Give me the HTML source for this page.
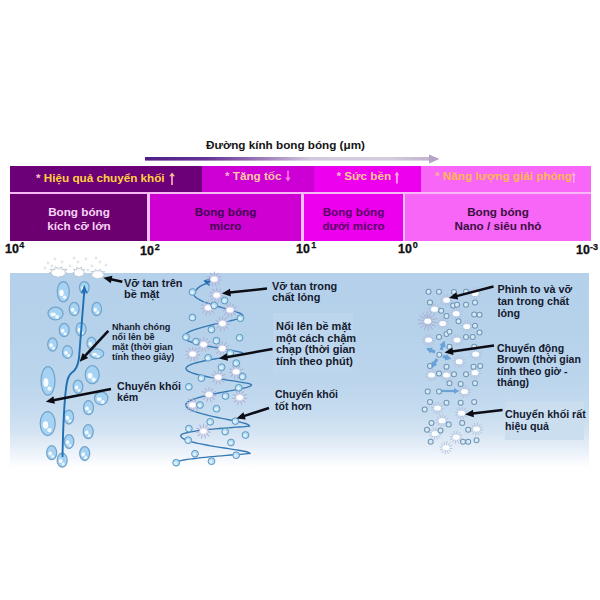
<!DOCTYPE html>
<html><head><meta charset="utf-8">
<style>
html,body{margin:0;padding:0;background:#fff;}
body{width:600px;height:600px;position:relative;overflow:hidden;font-family:"Liberation Sans",sans-serif;}
.a{position:absolute;white-space:nowrap;font-weight:bold;}
.c{position:absolute;}
.band{position:absolute;}
.lbl{position:absolute;white-space:nowrap;font-weight:bold;color:#141a2e;font-size:9.5px;line-height:11.7px;}
</style></head><body>
<!-- title -->
<div class="a" style="left:206px;top:138px;font-size:11.7px;line-height:13px;color:#151515;">Đường kính bong bóng (μm)</div>
<svg class="c" style="left:0;top:0" width="600" height="600">
<defs>
<linearGradient id="arr" x1="0" x2="1" y1="0" y2="0">
<stop offset="0" stop-color="#4e1c86"/>
<stop offset="0.22" stop-color="#663496"/>
<stop offset="0.42" stop-color="#a080bc"/>
<stop offset="0.58" stop-color="#d2c8de"/>
<stop offset="0.85" stop-color="#d4ccdc"/>
<stop offset="1" stop-color="#c0b2cc"/>
</linearGradient>
</defs>
<rect x="145" y="157" width="287" height="3.6" fill="url(#arr)"/>
<path d="M429 154.5 L439.5 159 L429 163.5 Z" fill="#b4a4c6"/>
</svg>
<!-- top band -->
<div class="band" style="left:10px;top:191px;width:581px;height:4px;background:#f8b8f8;"></div>
<div class="band" style="left:147px;top:194px;width:4px;height:47px;background:#f8c0f8;"></div>
<div class="band" style="left:300px;top:194px;width:5px;height:47px;background:#f8c0f8;"></div>
<div class="band" style="left:402px;top:194px;width:4px;height:47px;background:#f8c0f8;"></div>
<div class="band" style="left:10px;top:166px;width:192px;height:26px;background:#6c0078;"></div>
<div class="band" style="left:202px;top:166px;width:112px;height:26px;background:#cc00d4;"></div>
<div class="band" style="left:314px;top:166px;width:107px;height:26px;background:#ec00ee;"></div>
<div class="band" style="left:421px;top:166px;width:170px;height:26px;background:#f866f8;"></div>
<!-- bottom band -->
<div class="band" style="left:10px;top:194px;width:137px;height:47px;background:#6c0070;"></div>
<div class="band" style="left:150px;top:194px;width:151px;height:47px;background:#ce00d2;"></div>
<div class="band" style="left:304px;top:194px;width:99px;height:47px;background:#ec00ee;"></div>
<div class="band" style="left:405px;top:194px;width:186px;height:47px;background:#f866f8;"></div>

<div class="a" style="left:36px;top:171px;font-size:11.7px;line-height:13px;color:#ffd23e;"><span style="color:#f8c4c8">*</span> Hiệu quả chuyển khối </div>
<div class="a" style="left:225px;top:168.7px;font-size:11.7px;line-height:13px;color:#ffc8a0;"><span style="color:#ffb0d0">*</span> Tăng tốc </div>
<div class="a" style="left:336.5px;top:168.7px;font-size:11.7px;line-height:13px;color:#ffc890;"><span style="color:#ffb0d0">*</span> Sức bền </div>
<div class="a" style="left:435px;top:168.9px;font-size:11.7px;line-height:13px;color:#ffb850;"><span style="color:#ffb0a0">*</span> Năng lượng giải phóng</div>

<svg class="c" style="left:0;top:0" width="600" height="600">
<rect x="171" y="175" width="2" height="10" fill="#e490b4"/><path d="M172 172.6 L175 176.3 L169.2 176.3 Z" fill="#f6bc94"/>
<rect x="287" y="170.6" width="2" height="8" fill="#ff58e4"/><path d="M288 181.6 L290.6 177.6 L285.4 177.6 Z" fill="#ff88e0"/>
<rect x="395.9" y="174" width="2" height="9.5" fill="#ff98e8"/><path d="M396.9 171.4 L399.2 175.2 L394.6 175.2 Z" fill="#ffa8d8"/>
<rect x="573" y="175" width="1.5" height="8" fill="#ffa4ff"/><path d="M573.7 172.2 L575.8 175.6 L571.6 175.6 Z" fill="#ffb0f0"/>
</svg>
<div class="a" style="left:10px;top:205px;width:138px;text-align:center;font-size:11.7px;line-height:13.5px;color:#f4d4f4;">Bong bóng<br>kích cỡ lớn</div>
<div class="a" style="left:150px;top:205px;width:151px;text-align:center;font-size:11.7px;line-height:13.5px;color:#440050;">Bong bóng<br>micro</div>
<div class="a" style="left:304px;top:205px;width:99px;text-align:center;font-size:11.7px;line-height:13.5px;color:#5a0064;">Bong bóng<br>dưới micro</div>
<div class="a" style="left:405px;top:205px;width:186px;text-align:center;font-size:11.7px;line-height:13.5px;color:#3a1040;">Bong bóng<br>Nano / siêu nhỏ</div>

<!-- axis labels -->
<div class="a" style="left:4.5px;top:241.5px;font-size:13.5px;line-height:13.5px;color:#111;-webkit-text-stroke:0.35px #111;transform:scaleX(0.92);transform-origin:0 0;">10</div><div class="a" style="left:19.3px;top:240.8px;font-size:9px;line-height:9px;color:#111;-webkit-text-stroke:0.25px #111;">4</div>
<div class="a" style="left:140px;top:244.2px;font-size:13.5px;line-height:13.5px;color:#111;-webkit-text-stroke:0.35px #111;transform:scaleX(0.92);transform-origin:0 0;">10</div><div class="a" style="left:154.7px;top:243.1px;font-size:9px;line-height:9px;color:#111;-webkit-text-stroke:0.25px #111;">2</div>
<div class="a" style="left:296px;top:241.9px;font-size:13.5px;line-height:13.5px;color:#111;-webkit-text-stroke:0.35px #111;transform:scaleX(0.92);transform-origin:0 0;">10</div><div class="a" style="left:311.3px;top:241.1px;font-size:9px;line-height:9px;color:#111;-webkit-text-stroke:0.25px #111;">1</div>
<div class="a" style="left:398px;top:241.9px;font-size:13.5px;line-height:13.5px;color:#111;-webkit-text-stroke:0.35px #111;transform:scaleX(0.92);transform-origin:0 0;">10</div><div class="a" style="left:412.7px;top:241.1px;font-size:9px;line-height:9px;color:#111;-webkit-text-stroke:0.25px #111;">0</div>
<div class="a" style="left:576px;top:242.9px;font-size:13.5px;line-height:13.5px;color:#111;-webkit-text-stroke:0.35px #111;transform:scaleX(0.92);transform-origin:0 0;">10</div><div class="a" style="left:590px;top:242.5px;font-size:9px;line-height:9px;color:#111;-webkit-text-stroke:0.25px #111;">-3</div>
<!-- bubble panel bg -->
<div class="c" style="left:10px;top:273px;width:579px;height:195px;background:linear-gradient(#b5d0ea 0%,#b6d2eb 30%,#bbd5ec 55%,#c5dbef 70%,#d3e3f2 81%,#e5eef8 89%,#f3f7fc 95%,#ffffff 100%);"></div>

<div class="c" style="left:505px;top:402px;width:79px;height:38px;background:#cadef0;"></div>
<div class="c" style="left:273px;top:313px;width:80px;height:60px;background:#c2d8ee;opacity:0.6"></div>
<svg class="c" style="left:0;top:0" width="600" height="600">
<!--SVGSTART-->
<ellipse cx="63.3" cy="291.7" rx="6" ry="10.2" fill="#a6d3f3" stroke="#72a4cc" stroke-width="1.25"/>
<ellipse cx="61.5" cy="292.9" rx="2.2" ry="3.1" fill="#f8fcff"/>
<circle cx="64.6" cy="297.3" r="1.8" fill="#eef8ff"/>
<ellipse cx="84.3" cy="287.5" rx="4.8" ry="6" fill="#a6d3f3" stroke="#72a4cc" stroke-width="1.25"/>
<ellipse cx="82.9" cy="288.2" rx="1.7" ry="1.8" fill="#f8fcff"/>
<circle cx="85.4" cy="290.8" r="1.4" fill="#eef8ff"/>
<ellipse cx="74.2" cy="309" rx="5" ry="6.7" fill="#a6d3f3" stroke="#72a4cc" stroke-width="1.25"/>
<ellipse cx="72.7" cy="309.8" rx="1.8" ry="2.0" fill="#f8fcff"/>
<circle cx="75.3" cy="312.7" r="1.5" fill="#eef8ff"/>
<ellipse cx="96.7" cy="309" rx="4.8" ry="6.7" fill="#a6d3f3" stroke="#72a4cc" stroke-width="1.25"/>
<ellipse cx="95.3" cy="309.8" rx="1.7" ry="2.0" fill="#f8fcff"/>
<circle cx="97.8" cy="312.7" r="1.4" fill="#eef8ff"/>
<ellipse cx="55.5" cy="313.5" rx="7.5" ry="6.3" fill="#a6d3f3" stroke="#72a4cc" stroke-width="1.25"/>
<ellipse cx="53.2" cy="314.3" rx="2.7" ry="1.9" fill="#f8fcff"/>
<circle cx="57.1" cy="317.0" r="1.9" fill="#eef8ff"/>
<ellipse cx="64.2" cy="330" rx="5" ry="6.7" fill="#a6d3f3" stroke="#72a4cc" stroke-width="1.25"/>
<ellipse cx="62.7" cy="330.8" rx="1.8" ry="2.0" fill="#f8fcff"/>
<circle cx="65.3" cy="333.7" r="1.5" fill="#eef8ff"/>
<ellipse cx="81" cy="329.2" rx="5" ry="6.7" fill="#a6d3f3" stroke="#72a4cc" stroke-width="1.25"/>
<ellipse cx="79.5" cy="330.0" rx="1.8" ry="2.0" fill="#f8fcff"/>
<circle cx="82.1" cy="332.9" r="1.5" fill="#eef8ff"/>
<ellipse cx="52.5" cy="344.5" rx="4.8" ry="6.7" fill="#a6d3f3" stroke="#72a4cc" stroke-width="1.25"/>
<ellipse cx="51.1" cy="345.3" rx="1.7" ry="2.0" fill="#f8fcff"/>
<circle cx="53.6" cy="348.2" r="1.4" fill="#eef8ff"/>
<ellipse cx="67.5" cy="352" rx="5" ry="6.3" fill="#a6d3f3" stroke="#72a4cc" stroke-width="1.25"/>
<ellipse cx="66.0" cy="352.8" rx="1.8" ry="1.9" fill="#f8fcff"/>
<circle cx="68.6" cy="355.5" r="1.5" fill="#eef8ff"/>
<ellipse cx="91.5" cy="343.2" rx="4.5" ry="6" fill="#a6d3f3" stroke="#72a4cc" stroke-width="1.25"/>
<ellipse cx="90.2" cy="343.9" rx="1.6" ry="1.8" fill="#f8fcff"/>
<circle cx="92.5" cy="346.5" r="1.3" fill="#eef8ff"/>
<ellipse cx="96.7" cy="353.7" rx="7" ry="4.8" fill="#a6d3f3" stroke="#72a4cc" stroke-width="1.25"/>
<ellipse cx="94.6" cy="354.3" rx="2.5" ry="1.5" fill="#f8fcff"/>
<circle cx="98.2" cy="356.3" r="1.4" fill="#eef8ff"/>
<ellipse cx="48" cy="380.8" rx="7" ry="14.3" fill="#a6d3f3" stroke="#72a4cc" stroke-width="1.25"/>
<ellipse cx="45.9" cy="382.5" rx="2.5" ry="4.3" fill="#f8fcff"/>
<circle cx="49.5" cy="388.7" r="2.1" fill="#eef8ff"/>
<ellipse cx="92.2" cy="374.7" rx="7" ry="9" fill="#a6d3f3" stroke="#72a4cc" stroke-width="1.25"/>
<ellipse cx="90.1" cy="375.8" rx="2.5" ry="2.7" fill="#f8fcff"/>
<circle cx="93.7" cy="379.6" r="2.1" fill="#eef8ff"/>
<ellipse cx="78" cy="386.7" rx="4.8" ry="6.7" fill="#a6d3f3" stroke="#72a4cc" stroke-width="1.25"/>
<ellipse cx="76.6" cy="387.5" rx="1.7" ry="2.0" fill="#f8fcff"/>
<circle cx="79.1" cy="390.4" r="1.4" fill="#eef8ff"/>
<ellipse cx="101.2" cy="398.3" rx="6.7" ry="6.5" fill="#a6d3f3" stroke="#72a4cc" stroke-width="1.25"/>
<ellipse cx="99.2" cy="399.1" rx="2.4" ry="1.9" fill="#f8fcff"/>
<circle cx="102.7" cy="401.9" r="1.9" fill="#eef8ff"/>
<ellipse cx="88.5" cy="407.7" rx="5" ry="7" fill="#a6d3f3" stroke="#72a4cc" stroke-width="1.25"/>
<ellipse cx="87.0" cy="408.5" rx="1.8" ry="2.1" fill="#f8fcff"/>
<circle cx="89.6" cy="411.6" r="1.5" fill="#eef8ff"/>
<ellipse cx="68.8" cy="417" rx="4.8" ry="7" fill="#a6d3f3" stroke="#72a4cc" stroke-width="1.25"/>
<ellipse cx="67.4" cy="417.8" rx="1.7" ry="2.1" fill="#f8fcff"/>
<circle cx="69.9" cy="420.9" r="1.4" fill="#eef8ff"/>
<ellipse cx="47.7" cy="423.5" rx="7.5" ry="12" fill="#a6d3f3" stroke="#72a4cc" stroke-width="1.25"/>
<ellipse cx="45.5" cy="424.9" rx="2.7" ry="3.6" fill="#f8fcff"/>
<circle cx="49.4" cy="430.1" r="2.2" fill="#eef8ff"/>
<ellipse cx="88.2" cy="431.7" rx="5" ry="7" fill="#a6d3f3" stroke="#72a4cc" stroke-width="1.25"/>
<ellipse cx="86.7" cy="432.5" rx="1.8" ry="2.1" fill="#f8fcff"/>
<circle cx="89.3" cy="435.6" r="1.5" fill="#eef8ff"/>
<ellipse cx="69" cy="441.5" rx="4.8" ry="7" fill="#a6d3f3" stroke="#72a4cc" stroke-width="1.25"/>
<ellipse cx="67.6" cy="442.3" rx="1.7" ry="2.1" fill="#f8fcff"/>
<circle cx="70.1" cy="445.4" r="1.4" fill="#eef8ff"/>
<ellipse cx="51.7" cy="452.7" rx="5" ry="7" fill="#a6d3f3" stroke="#72a4cc" stroke-width="1.25"/>
<ellipse cx="50.2" cy="453.5" rx="1.8" ry="2.1" fill="#f8fcff"/>
<circle cx="52.8" cy="456.6" r="1.5" fill="#eef8ff"/>
<ellipse cx="62.2" cy="460.2" rx="5" ry="7" fill="#a6d3f3" stroke="#72a4cc" stroke-width="1.25"/>
<ellipse cx="60.7" cy="461.0" rx="1.8" ry="2.1" fill="#f8fcff"/>
<circle cx="63.3" cy="464.1" r="1.5" fill="#eef8ff"/>
<ellipse cx="84.7" cy="453.5" rx="5" ry="7" fill="#a6d3f3" stroke="#72a4cc" stroke-width="1.25"/>
<ellipse cx="83.2" cy="454.3" rx="1.8" ry="2.1" fill="#f8fcff"/>
<circle cx="85.8" cy="457.4" r="1.5" fill="#eef8ff"/>
<path d="M62.5 457 C63 430 64 402 66.5 385 C67.5 378 69 374.5 72 372.5 C76 370 78 365 79 358 L84.2 292" fill="none" stroke="#1f6fb2" stroke-width="1.9"/>
<path d="M84.3 284.8 L87.8 293.5 L84.3 292 L80.8 293.5 Z" fill="#1f6fb2"/>
<circle cx="48" cy="263" r="1.4" fill="#e2e6ea"/>
<circle cx="55" cy="259" r="1.4" fill="#e2e6ea"/>
<circle cx="62" cy="262" r="1.4" fill="#e2e6ea"/>
<circle cx="70" cy="266" r="1.4" fill="#e2e6ea"/>
<circle cx="78" cy="262" r="1.4" fill="#e2e6ea"/>
<circle cx="86" cy="259" r="1.4" fill="#e2e6ea"/>
<circle cx="92" cy="266" r="1.4" fill="#e2e6ea"/>
<circle cx="100" cy="262" r="1.4" fill="#e2e6ea"/>
<circle cx="106" cy="265" r="1.4" fill="#e2e6ea"/>
<circle cx="45" cy="268" r="1.4" fill="#e2e6ea"/>
<circle cx="66" cy="270" r="1.4" fill="#e2e6ea"/>
<circle cx="88" cy="270" r="1.4" fill="#e2e6ea"/>
<circle cx="52" cy="266" r="1.4" fill="#e2e6ea"/>
<circle cx="74" cy="258" r="1.4" fill="#e2e6ea"/>
<circle cx="96" cy="258" r="1.4" fill="#e2e6ea"/>
<polygon points="67.6,273.5 63.3,274.2 64.2,276.8 60.2,275.7 58.1,278.1 56.1,275.6 52.0,276.6 53.1,274.0 48.9,273.2 52.5,271.6 50.2,269.3 54.6,269.5 55.3,266.8 58.4,268.7 61.8,266.9 62.2,269.6 66.6,269.5 64.1,271.8" fill="#f4f7fb" stroke="#b8c4d0" stroke-width="0.9" stroke-linejoin="round"/>
<ellipse cx="58.3" cy="273.1" rx="6.6" ry="3.2" fill="#ffffff"/>
<polygon points="85.4,273.4 82.4,274.1 83.0,276.6 80.3,275.5 78.8,277.8 77.5,275.5 74.7,276.4 75.5,273.9 72.6,273.1 75.1,271.6 73.5,269.4 76.5,269.6 76.9,267.1 79.1,268.9 81.4,267.2 81.7,269.7 84.7,269.7 83.0,271.8" fill="#f4f7fb" stroke="#b8c4d0" stroke-width="0.9" stroke-linejoin="round"/>
<ellipse cx="79" cy="273.1" rx="4.5" ry="3.0" fill="#ffffff"/>
<polygon points="105.6,275.2 102.0,275.9 102.8,278.3 99.4,277.3 97.6,279.4 96.0,277.2 92.5,278.1 93.4,275.7 89.9,275.0 92.9,273.6 91.0,271.5 94.7,271.7 95.3,269.3 97.9,271.0 100.7,269.4 101.1,271.8 104.8,271.7 102.7,273.7" fill="#f4f7fb" stroke="#b8c4d0" stroke-width="0.9" stroke-linejoin="round"/>
<ellipse cx="97.8" cy="275.0" rx="5.6" ry="2.9" fill="#ffffff"/>
<path d="M206.5 283.5 Q198.5 286 195.2 291.2 L193 293 L193.0 293.0 L193.2 294.2 L193.9 295.4 L194.9 296.6 L196.3 297.8 L198.2 299.0 L200.3 300.2 L202.8 301.3 L205.5 302.4 L208.4 303.5 L211.5 304.5 L214.7 305.5 L218.0 306.5 L221.3 307.4 L224.5 308.3 L227.6 309.2 L230.5 310.1 L233.2 310.9 L235.7 311.7 L237.8 312.4 L239.7 313.2 L241.1 313.9 L242.1 314.6 L242.8 315.3 L243.0 316.0 L243.0 316.0 L242.7 316.6 L242.0 317.2 L240.8 317.9 L239.0 318.5 L236.9 319.2 L234.4 319.8 L231.5 320.5 L228.2 321.3 L224.8 322.0 L221.1 322.8 L217.4 323.6 L213.5 324.5 L209.6 325.4 L205.9 326.3 L202.2 327.3 L198.8 328.3 L195.5 329.3 L192.6 330.3 L190.1 331.4 L188.0 332.5 L186.2 333.6 L185.0 334.7 L184.3 335.9 L184.0 337.0 L184.0 337.0 L184.3 337.9 L185.0 338.9 L186.2 339.8 L188.0 340.8 L190.1 341.7 L192.6 342.5 L195.5 343.4 L198.8 344.2 L202.2 345.0 L205.9 345.8 L209.6 346.5 L213.5 347.2 L217.4 347.9 L221.1 348.6 L224.8 349.2 L228.2 349.7 L231.5 350.3 L234.4 350.8 L236.9 351.3 L239.0 351.8 L240.8 352.2 L242.0 352.6 L242.7 353.1 L243.0 353.5 L243.0 353.5 L242.8 353.9 L242.0 354.2 L240.8 354.6 L239.2 355.0 L237.1 355.4 L234.7 355.8 L231.8 356.3 L228.8 356.8 L225.4 357.3 L221.9 357.8 L218.2 358.4 L214.5 359.0 L210.8 359.6 L207.1 360.3 L203.6 361.0 L200.2 361.8 L197.2 362.5 L194.3 363.3 L191.9 364.2 L189.8 365.0 L188.2 365.9 L187.0 366.7 L186.2 367.6 L186.0 368.5 L186.0 368.5 L186.3 369.4 L187.1 370.4 L188.5 371.3 L190.4 372.2 L192.8 373.2 L195.6 374.0 L198.8 374.9 L202.4 375.7 L206.2 376.5 L210.3 377.3 L214.5 378.0 L218.8 378.8 L223.0 379.4 L227.2 380.1 L231.3 380.7 L235.1 381.2 L238.7 381.8 L241.9 382.3 L244.7 382.8 L247.1 383.2 L249.0 383.7 L250.4 384.1 L251.2 384.6 L251.5 385.0 L251.5 385.0 L251.2 385.6 L250.4 386.1 L249.0 386.7 L247.1 387.3 L244.7 387.9 L241.9 388.6 L238.6 389.2 L235.1 389.9 L231.2 390.7 L227.1 391.4 L222.9 392.2 L218.6 393.0 L214.3 393.9 L210.1 394.7 L206.0 395.7 L202.2 396.6 L198.6 397.6 L195.3 398.6 L192.5 399.6 L190.1 400.7 L188.2 401.7 L186.8 402.8 L186.0 403.9 L185.7 405.0 L185.7 405.0 L186.0 406.1 L186.8 407.3 L188.1 408.4 L190.0 409.5 L192.3 410.6 L195.0 411.7 L198.2 412.7 L201.6 413.7 L205.4 414.7 L209.3 415.7 L213.4 416.6 L217.6 417.5 L221.8 418.4 L225.9 419.2 L229.8 420.0 L233.5 420.7 L237.0 421.5 L240.2 422.2 L242.9 422.8 L245.2 423.5 L247.1 424.1 L248.4 424.8 L249.2 425.4 L249.5 426.0 L249.5 426.0 L249.2 426.1 L248.3 426.3 L246.9 426.4 L244.9 426.6 L242.4 426.8 L239.4 427.0 L236.0 427.2 L232.3 427.5 L228.3 427.8 L224.0 428.1 L219.6 428.5 L215.1 428.9 L210.6 429.3 L206.2 429.7 L201.9 430.2 L197.9 430.7 L194.2 431.3 L190.8 431.9 L187.8 432.5 L185.3 433.1 L183.3 433.7 L181.9 434.4 L181.0 435.0 L180.7 435.7 L180.7 435.7 L181.0 436.7 L181.9 437.7 L183.3 438.7 L185.3 439.7 L187.9 440.6 L190.8 441.6 L194.3 442.5 L198.0 443.4 L202.1 444.2 L206.4 445.0 L210.8 445.8 L215.3 446.6 L219.9 447.3 L224.3 448.0 L228.6 448.7 L232.7 449.3 L236.4 449.9 L239.9 450.5 L242.8 451.0 L245.4 451.5 L247.4 452.0 L248.8 452.5 L249.7 453.0 L250.0 453.5 L250.0 453.5 L245.2 453.9 L240.4 454.3 L235.6 454.6 L230.9 455.0 L226.3 455.4 L221.8 455.8 L217.4 456.2 L213.1 456.6 L209.0 456.9 L205.1 457.3 L201.3 457.7 L197.8 458.1 L194.5 458.5 L191.5 458.9 L188.6 459.2 L186.1 459.6 L183.8 460.0 L181.8 460.4 L180.1 460.8 L178.7 461.2 L177.6 461.6 L176.8 461.9 L176.4 462.3 L176.2 462.7" fill="none" stroke="#3478b4" stroke-width="1.35"/>
<path d="M211.5 277.8 L209.2 286.3 L203.3 280.8 Z" fill="#1f6cb5"/>
<path d="M217.2 279.6L221.3 280.3M216.5 281.2L219.6 284.0M215.0 282.1L216.2 286.1M213.3 282.1L212.1 286.1M211.9 281.1L208.7 283.9M211.2 279.6L207.1 280.2M211.5 277.9L207.7 276.2M212.6 276.7L210.4 273.1M214.2 276.2L214.3 272.0M215.8 276.7L218.1 273.2M216.9 278.0L220.8 276.3" stroke="#aeb2d4" stroke-width="1.1" stroke-linecap="round"/>
<ellipse cx="214.2" cy="279.2" rx="3.8" ry="3.0" fill="#ffffff" stroke="#d8d6ee" stroke-width="0.9"/>
<path d="M219.7 295.6L223.8 296.3M219.0 297.2L222.1 300.0M217.5 298.1L218.7 302.1M215.8 298.1L214.6 302.1M214.4 297.1L211.2 299.9M213.7 295.6L209.6 296.2M214.0 293.9L210.2 292.2M215.1 292.7L212.9 289.1M216.7 292.2L216.8 288.0M218.3 292.7L220.6 289.2M219.4 294.0L223.3 292.3" stroke="#aeb2d4" stroke-width="1.1" stroke-linecap="round"/>
<ellipse cx="216.7" cy="295.2" rx="3.8" ry="3.0" fill="#ffffff" stroke="#d8d6ee" stroke-width="0.9"/>
<path d="M211.2 308.1L215.3 308.8M210.5 309.7L213.6 312.5M209.0 310.6L210.2 314.6M207.3 310.6L206.1 314.6M205.9 309.6L202.7 312.4M205.2 308.1L201.1 308.7M205.5 306.4L201.7 304.7M206.6 305.2L204.4 301.6M208.2 304.7L208.3 300.5M209.8 305.2L212.1 301.7M210.9 306.5L214.8 304.8" stroke="#aeb2d4" stroke-width="1.1" stroke-linecap="round"/>
<ellipse cx="208.2" cy="307.7" rx="3.8" ry="3.0" fill="#ffffff" stroke="#d8d6ee" stroke-width="0.9"/>
<path d="M233.0 310.4L237.1 311.1M232.3 312.0L235.4 314.8M230.8 312.9L232.0 316.9M229.1 312.9L227.9 316.9M227.7 311.9L224.5 314.7M227.0 310.4L222.9 311.0M227.3 308.7L223.5 307.0M228.4 307.5L226.2 303.9M230.0 307.0L230.1 302.8M231.6 307.5L233.9 304.0M232.7 308.8L236.6 307.1" stroke="#aeb2d4" stroke-width="1.1" stroke-linecap="round"/>
<ellipse cx="230" cy="310" rx="3.8" ry="3.0" fill="#ffffff" stroke="#d8d6ee" stroke-width="0.9"/>
<path d="M225.5 323.9L229.6 324.6M224.8 325.5L227.9 328.3M223.3 326.4L224.5 330.4M221.6 326.4L220.4 330.4M220.2 325.4L217.0 328.2M219.5 323.9L215.4 324.5M219.8 322.2L216.0 320.5M220.9 321.0L218.7 317.4M222.5 320.5L222.6 316.3M224.1 321.0L226.4 317.5M225.2 322.3L229.1 320.6" stroke="#aeb2d4" stroke-width="1.1" stroke-linecap="round"/>
<ellipse cx="222.5" cy="323.5" rx="3.8" ry="3.0" fill="#ffffff" stroke="#d8d6ee" stroke-width="0.9"/>
<path d="M206.6 344.9L210.7 345.6M205.9 346.5L209.0 349.3M204.4 347.4L205.6 351.4M202.7 347.4L201.5 351.4M201.3 346.4L198.1 349.2M200.6 344.9L196.5 345.5M200.9 343.2L197.1 341.5M202.0 342.0L199.8 338.4M203.6 341.5L203.7 337.3M205.2 342.0L207.5 338.5M206.3 343.3L210.2 341.6" stroke="#aeb2d4" stroke-width="1.1" stroke-linecap="round"/>
<ellipse cx="203.6" cy="344.5" rx="3.8" ry="3.0" fill="#ffffff" stroke="#d8d6ee" stroke-width="0.9"/>
<path d="M225.3 348.8L229.4 349.5M224.6 350.4L227.7 353.2M223.1 351.3L224.3 355.3M221.4 351.3L220.2 355.3M220.0 350.3L216.8 353.1M219.3 348.8L215.2 349.4M219.6 347.1L215.8 345.4M220.7 345.9L218.5 342.3M222.3 345.4L222.4 341.2M223.9 345.9L226.2 342.4M225.0 347.2L228.9 345.5" stroke="#aeb2d4" stroke-width="1.1" stroke-linecap="round"/>
<ellipse cx="222.3" cy="348.4" rx="3.8" ry="3.0" fill="#ffffff" stroke="#d8d6ee" stroke-width="0.9"/>
<path d="M195.7 354.4L199.8 355.1M195.0 356.0L198.1 358.8M193.5 356.9L194.7 360.9M191.8 356.9L190.6 360.9M190.4 355.9L187.2 358.7M189.7 354.4L185.6 355.0M190.0 352.7L186.2 351.0M191.1 351.5L188.9 347.9M192.7 351.0L192.8 346.8M194.3 351.5L196.6 348.0M195.4 352.8L199.3 351.1" stroke="#aeb2d4" stroke-width="1.1" stroke-linecap="round"/>
<ellipse cx="192.7" cy="354" rx="3.8" ry="3.0" fill="#ffffff" stroke="#d8d6ee" stroke-width="0.9"/>
<path d="M239.2 372.2L243.3 372.9M238.5 373.8L241.6 376.6M237.0 374.7L238.2 378.7M235.3 374.7L234.1 378.7M233.9 373.7L230.7 376.5M233.2 372.2L229.1 372.8M233.5 370.5L229.7 368.8M234.6 369.3L232.4 365.7M236.2 368.8L236.3 364.6M237.8 369.3L240.1 365.8M238.9 370.6L242.8 368.9" stroke="#aeb2d4" stroke-width="1.1" stroke-linecap="round"/>
<ellipse cx="236.2" cy="371.8" rx="3.8" ry="3.0" fill="#ffffff" stroke="#d8d6ee" stroke-width="0.9"/>
<path d="M221.2 377.7L225.3 378.4M220.5 379.3L223.6 382.1M219.0 380.2L220.2 384.2M217.3 380.2L216.1 384.2M215.9 379.2L212.7 382.0M215.2 377.7L211.1 378.3M215.5 376.0L211.7 374.3M216.6 374.8L214.4 371.2M218.2 374.3L218.3 370.1M219.8 374.8L222.1 371.3M220.9 376.1L224.8 374.4" stroke="#aeb2d4" stroke-width="1.1" stroke-linecap="round"/>
<ellipse cx="218.2" cy="377.3" rx="3.8" ry="3.0" fill="#ffffff" stroke="#d8d6ee" stroke-width="0.9"/>
<path d="M212.0 394.9L216.1 395.6M211.3 396.5L214.4 399.3M209.8 397.4L211.0 401.4M208.1 397.4L206.9 401.4M206.7 396.4L203.5 399.2M206.0 394.9L201.9 395.5M206.3 393.2L202.5 391.5M207.4 392.0L205.2 388.4M209.0 391.5L209.1 387.3M210.6 392.0L212.9 388.5M211.7 393.3L215.6 391.6" stroke="#aeb2d4" stroke-width="1.1" stroke-linecap="round"/>
<ellipse cx="209" cy="394.5" rx="3.8" ry="3.0" fill="#ffffff" stroke="#d8d6ee" stroke-width="0.9"/>
<path d="M242.7 397.9L246.8 398.6M242.0 399.5L245.1 402.3M240.5 400.4L241.7 404.4M238.8 400.4L237.6 404.4M237.4 399.4L234.2 402.2M236.7 397.9L232.6 398.5M237.0 396.2L233.2 394.5M238.1 395.0L235.9 391.4M239.7 394.5L239.8 390.3M241.3 395.0L243.6 391.5M242.4 396.3L246.3 394.6" stroke="#aeb2d4" stroke-width="1.1" stroke-linecap="round"/>
<ellipse cx="239.7" cy="397.5" rx="3.8" ry="3.0" fill="#ffffff" stroke="#d8d6ee" stroke-width="0.9"/>
<path d="M195.5 405.4L199.6 406.1M194.8 407.0L197.9 409.8M193.3 407.9L194.5 411.9M191.6 407.9L190.4 411.9M190.2 406.9L187.0 409.7M189.5 405.4L185.4 406.0M189.8 403.7L186.0 402.0M190.9 402.5L188.7 398.9M192.5 402.0L192.6 397.8M194.1 402.5L196.4 399.0M195.2 403.8L199.1 402.1" stroke="#aeb2d4" stroke-width="1.1" stroke-linecap="round"/>
<ellipse cx="192.5" cy="405" rx="3.8" ry="3.0" fill="#ffffff" stroke="#d8d6ee" stroke-width="0.9"/>
<path d="M206.5 431.6L210.6 432.3M205.8 433.2L208.9 436.0M204.3 434.1L205.5 438.1M202.6 434.1L201.4 438.1M201.2 433.1L198.0 435.9M200.5 431.6L196.4 432.2M200.8 429.9L197.0 428.2M201.9 428.7L199.7 425.1M203.5 428.2L203.6 424.0M205.1 428.7L207.4 425.2M206.2 430.0L210.1 428.3" stroke="#aeb2d4" stroke-width="1.1" stroke-linecap="round"/>
<ellipse cx="203.5" cy="431.2" rx="3.8" ry="3.0" fill="#ffffff" stroke="#d8d6ee" stroke-width="0.9"/>
<circle cx="192.5" cy="292" r="3.4" fill="#b2daf2" stroke="#5e98c2" stroke-width="1.0"/>
<circle cx="192.0" cy="292.5" r="1.8" fill="#dcf0fb"/>
<circle cx="224.7" cy="300.5" r="3.4" fill="#b2daf2" stroke="#5e98c2" stroke-width="1.0"/>
<circle cx="224.2" cy="301.0" r="1.8" fill="#dcf0fb"/>
<circle cx="214.2" cy="305.5" r="3.4" fill="#b2daf2" stroke="#5e98c2" stroke-width="1.0"/>
<circle cx="213.7" cy="306.0" r="1.8" fill="#dcf0fb"/>
<circle cx="240.5" cy="318.2" r="3.4" fill="#b2daf2" stroke="#5e98c2" stroke-width="1.0"/>
<circle cx="240.0" cy="318.7" r="1.8" fill="#dcf0fb"/>
<circle cx="192.5" cy="317.5" r="3.4" fill="#b2daf2" stroke="#5e98c2" stroke-width="1.0"/>
<circle cx="192.0" cy="318.0" r="1.8" fill="#dcf0fb"/>
<circle cx="211.5" cy="329.5" r="3.4" fill="#b2daf2" stroke="#5e98c2" stroke-width="1.0"/>
<circle cx="211.0" cy="330.0" r="1.8" fill="#dcf0fb"/>
<circle cx="186" cy="337" r="3.4" fill="#b2daf2" stroke="#5e98c2" stroke-width="1.0"/>
<circle cx="185.5" cy="337.5" r="1.8" fill="#dcf0fb"/>
<circle cx="196" cy="341.5" r="3.4" fill="#b2daf2" stroke="#5e98c2" stroke-width="1.0"/>
<circle cx="195.5" cy="342.0" r="1.8" fill="#dcf0fb"/>
<circle cx="216.4" cy="340.7" r="3.4" fill="#b2daf2" stroke="#5e98c2" stroke-width="1.0"/>
<circle cx="215.9" cy="341.2" r="1.8" fill="#dcf0fb"/>
<circle cx="239.6" cy="337.7" r="3.4" fill="#b2daf2" stroke="#5e98c2" stroke-width="1.0"/>
<circle cx="239.1" cy="338.2" r="1.8" fill="#dcf0fb"/>
<circle cx="230.3" cy="353" r="3.4" fill="#b2daf2" stroke="#5e98c2" stroke-width="1.0"/>
<circle cx="229.8" cy="353.5" r="1.8" fill="#dcf0fb"/>
<circle cx="208.1" cy="357.8" r="3.4" fill="#b2daf2" stroke="#5e98c2" stroke-width="1.0"/>
<circle cx="207.6" cy="358.3" r="1.8" fill="#dcf0fb"/>
<circle cx="236.2" cy="363.1" r="3.4" fill="#b2daf2" stroke="#5e98c2" stroke-width="1.0"/>
<circle cx="235.7" cy="363.6" r="1.8" fill="#dcf0fb"/>
<circle cx="221.6" cy="367.2" r="3.4" fill="#b2daf2" stroke="#5e98c2" stroke-width="1.0"/>
<circle cx="221.1" cy="367.7" r="1.8" fill="#dcf0fb"/>
<circle cx="201.4" cy="378.1" r="3.4" fill="#b2daf2" stroke="#5e98c2" stroke-width="1.0"/>
<circle cx="200.9" cy="378.6" r="1.8" fill="#dcf0fb"/>
<circle cx="242.6" cy="376.6" r="3.4" fill="#b2daf2" stroke="#5e98c2" stroke-width="1.0"/>
<circle cx="242.1" cy="377.1" r="1.8" fill="#dcf0fb"/>
<circle cx="188.9" cy="386.8" r="3.4" fill="#b2daf2" stroke="#5e98c2" stroke-width="1.0"/>
<circle cx="188.4" cy="387.3" r="1.8" fill="#dcf0fb"/>
<circle cx="238.8" cy="387.8" r="3.4" fill="#b2daf2" stroke="#5e98c2" stroke-width="1.0"/>
<circle cx="238.3" cy="388.3" r="1.8" fill="#dcf0fb"/>
<circle cx="225.5" cy="396" r="3.4" fill="#b2daf2" stroke="#5e98c2" stroke-width="1.0"/>
<circle cx="225.0" cy="396.5" r="1.8" fill="#dcf0fb"/>
<circle cx="200" cy="405" r="3.4" fill="#b2daf2" stroke="#5e98c2" stroke-width="1.0"/>
<circle cx="199.5" cy="405.5" r="1.8" fill="#dcf0fb"/>
<circle cx="216.6" cy="408.7" r="3.4" fill="#b2daf2" stroke="#5e98c2" stroke-width="1.0"/>
<circle cx="216.1" cy="409.2" r="1.8" fill="#dcf0fb"/>
<circle cx="235.4" cy="421.1" r="3.4" fill="#b2daf2" stroke="#5e98c2" stroke-width="1.0"/>
<circle cx="234.9" cy="421.6" r="1.8" fill="#dcf0fb"/>
<circle cx="210.2" cy="421.8" r="3.4" fill="#b2daf2" stroke="#5e98c2" stroke-width="1.0"/>
<circle cx="209.7" cy="422.3" r="1.8" fill="#dcf0fb"/>
<circle cx="188.9" cy="428.6" r="3.4" fill="#b2daf2" stroke="#5e98c2" stroke-width="1.0"/>
<circle cx="188.4" cy="429.1" r="1.8" fill="#dcf0fb"/>
<circle cx="225.2" cy="431.6" r="3.4" fill="#b2daf2" stroke="#5e98c2" stroke-width="1.0"/>
<circle cx="224.7" cy="432.1" r="1.8" fill="#dcf0fb"/>
<circle cx="245.5" cy="435" r="3.4" fill="#b2daf2" stroke="#5e98c2" stroke-width="1.0"/>
<circle cx="245.0" cy="435.5" r="1.8" fill="#dcf0fb"/>
<circle cx="188.2" cy="440.2" r="3.4" fill="#b2daf2" stroke="#5e98c2" stroke-width="1.0"/>
<circle cx="187.7" cy="440.7" r="1.8" fill="#dcf0fb"/>
<circle cx="231" cy="442.5" r="3.4" fill="#b2daf2" stroke="#5e98c2" stroke-width="1.0"/>
<circle cx="230.5" cy="443.0" r="1.8" fill="#dcf0fb"/>
<circle cx="195" cy="453.7" r="3.4" fill="#b2daf2" stroke="#5e98c2" stroke-width="1.0"/>
<circle cx="194.5" cy="454.2" r="1.8" fill="#dcf0fb"/>
<circle cx="236.2" cy="455.2" r="3.4" fill="#b2daf2" stroke="#5e98c2" stroke-width="1.0"/>
<circle cx="235.7" cy="455.7" r="1.8" fill="#dcf0fb"/>
<circle cx="211.5" cy="461.2" r="3.4" fill="#b2daf2" stroke="#5e98c2" stroke-width="1.0"/>
<circle cx="211.0" cy="461.7" r="1.8" fill="#dcf0fb"/>
<circle cx="176.2" cy="462.7" r="3.4" fill="#b2daf2" stroke="#5e98c2" stroke-width="1.0"/>
<circle cx="175.7" cy="463.2" r="1.8" fill="#dcf0fb"/>
<path d="M430.7 321.6L437.1 322.6M430.2 322.9L435.5 326.6M429.2 323.8L432.4 329.4M427.9 324.2L428.4 330.7M426.6 324.0L424.2 330.0M425.5 323.2L420.7 327.7M424.8 322.1L418.6 324.0M424.7 320.8L418.3 319.8M425.2 319.5L419.9 315.8M426.2 318.6L423.0 313.0M427.5 318.2L427.0 311.7M428.8 318.4L431.2 312.4M429.9 319.2L434.7 314.7M430.6 320.3L436.8 318.4" stroke="#a8acd4" stroke-width="1.0" stroke-linecap="round"/>
<path d="M449.0 300.6L452.6 301.1M448.5 301.8L451.3 304.1M447.4 302.5L448.8 306.0M446.1 302.7L445.6 306.3M444.9 302.2L442.6 305.0M444.2 301.1L440.7 302.5M444.0 299.8L440.4 299.3M444.5 298.6L441.7 296.3M445.6 297.9L444.2 294.4M446.9 297.7L447.4 294.1M448.1 298.2L450.4 295.4M448.8 299.3L452.3 297.9" stroke="#b0bcd8" stroke-width="0.85" stroke-linecap="round"/>
<ellipse cx="446.5" cy="300.2" rx="3.5" ry="2.6" fill="#fbfdff"/>
<path d="M477.5 293.9L481.1 294.4M477.0 295.1L479.8 297.4M475.9 295.8L477.3 299.3M474.6 296.0L474.1 299.6M473.4 295.5L471.1 298.3M472.7 294.4L469.2 295.8M472.5 293.1L468.9 292.6M473.0 291.9L470.2 289.6M474.1 291.2L472.7 287.7M475.4 291.0L475.9 287.4M476.6 291.5L478.9 288.7M477.3 292.6L480.8 291.2" stroke="#b0bcd8" stroke-width="0.85" stroke-linecap="round"/>
<ellipse cx="475" cy="293.5" rx="3.5" ry="2.6" fill="#fbfdff"/>
<path d="M437.0 309.6L440.6 310.1M436.5 310.8L439.3 313.1M435.4 311.5L436.8 315.0M434.1 311.7L433.6 315.3M432.9 311.2L430.6 314.0M432.2 310.1L428.7 311.5M432.0 308.8L428.4 308.3M432.5 307.6L429.7 305.3M433.6 306.9L432.2 303.4M434.9 306.7L435.4 303.1M436.1 307.2L438.4 304.4M436.8 308.3L440.3 306.9" stroke="#b0bcd8" stroke-width="0.85" stroke-linecap="round"/>
<ellipse cx="434.5" cy="309.2" rx="3.5" ry="2.6" fill="#fbfdff"/>
<path d="M458.7 314.1L462.3 314.6M458.2 315.3L461.0 317.6M457.1 316.0L458.5 319.5M455.8 316.2L455.3 319.8M454.6 315.7L452.3 318.5M453.9 314.6L450.4 316.0M453.7 313.3L450.1 312.8M454.2 312.1L451.4 309.8M455.3 311.4L453.9 307.9M456.6 311.2L457.1 307.6M457.8 311.7L460.1 308.9M458.5 312.8L462.0 311.4" stroke="#b0bcd8" stroke-width="0.85" stroke-linecap="round"/>
<ellipse cx="456.2" cy="313.7" rx="3.5" ry="2.6" fill="#fbfdff"/>
<path d="M430.2 321.6L433.8 322.1M429.7 322.8L432.5 325.1M428.6 323.5L430.0 327.0M427.3 323.7L426.8 327.3M426.1 323.2L423.8 326.0M425.4 322.1L421.9 323.5M425.2 320.8L421.6 320.3M425.7 319.6L422.9 317.3M426.8 318.9L425.4 315.4M428.1 318.7L428.6 315.1M429.3 319.2L431.6 316.4M430.0 320.3L433.5 318.9" stroke="#b0bcd8" stroke-width="0.85" stroke-linecap="round"/>
<ellipse cx="427.7" cy="321.2" rx="3.5" ry="2.6" fill="#fbfdff"/>
<path d="M445.2 323.9L448.8 324.4M444.7 325.1L447.5 327.4M443.6 325.8L445.0 329.3M442.3 326.0L441.8 329.6M441.1 325.5L438.8 328.3M440.4 324.4L436.9 325.8M440.2 323.1L436.6 322.6M440.7 321.9L437.9 319.6M441.8 321.2L440.4 317.7M443.1 321.0L443.6 317.4M444.3 321.5L446.6 318.7M445.0 322.6L448.5 321.2" stroke="#b0bcd8" stroke-width="0.85" stroke-linecap="round"/>
<ellipse cx="442.7" cy="323.5" rx="3.5" ry="2.6" fill="#fbfdff"/>
<path d="M469.2 326.9L472.8 327.4M468.7 328.1L471.5 330.4M467.6 328.8L469.0 332.3M466.3 329.0L465.8 332.6M465.1 328.5L462.8 331.3M464.4 327.4L460.9 328.8M464.2 326.1L460.6 325.6M464.7 324.9L461.9 322.6M465.8 324.2L464.4 320.7M467.1 324.0L467.6 320.4M468.3 324.5L470.6 321.7M469.0 325.6L472.5 324.2" stroke="#b0bcd8" stroke-width="0.85" stroke-linecap="round"/>
<ellipse cx="466.7" cy="326.5" rx="3.5" ry="2.6" fill="#fbfdff"/>
<path d="M431.0 340.4L434.6 340.9M430.5 341.6L433.3 343.9M429.4 342.3L430.8 345.8M428.1 342.5L427.6 346.1M426.9 342.0L424.6 344.8M426.2 340.9L422.7 342.3M426.0 339.6L422.4 339.1M426.5 338.4L423.7 336.1M427.6 337.7L426.2 334.2M428.9 337.5L429.4 333.9M430.1 338.0L432.4 335.2M430.8 339.1L434.3 337.7" stroke="#b0bcd8" stroke-width="0.85" stroke-linecap="round"/>
<ellipse cx="428.5" cy="340" rx="3.5" ry="2.6" fill="#fbfdff"/>
<path d="M459.5 340.4L463.1 340.9M459.0 341.6L461.8 343.9M457.9 342.3L459.3 345.8M456.6 342.5L456.1 346.1M455.4 342.0L453.1 344.8M454.7 340.9L451.2 342.3M454.5 339.6L450.9 339.1M455.0 338.4L452.2 336.1M456.1 337.7L454.7 334.2M457.4 337.5L457.9 333.9M458.6 338.0L460.9 335.2M459.3 339.1L462.8 337.7" stroke="#b0bcd8" stroke-width="0.85" stroke-linecap="round"/>
<ellipse cx="457" cy="340" rx="3.5" ry="2.6" fill="#fbfdff"/>
<path d="M478.2 354.6L481.8 355.1M477.7 355.8L480.5 358.1M476.6 356.5L478.0 360.0M475.3 356.7L474.8 360.3M474.1 356.2L471.8 359.0M473.4 355.1L469.9 356.5M473.2 353.8L469.6 353.3M473.7 352.6L470.9 350.3M474.8 351.9L473.4 348.4M476.1 351.7L476.6 348.1M477.3 352.2L479.6 349.4M478.0 353.3L481.5 351.9" stroke="#b0bcd8" stroke-width="0.85" stroke-linecap="round"/>
<ellipse cx="475.7" cy="354.2" rx="3.5" ry="2.6" fill="#fbfdff"/>
<path d="M461.7 362.1L465.3 362.6M461.2 363.3L464.0 365.6M460.1 364.0L461.5 367.5M458.8 364.2L458.3 367.8M457.6 363.7L455.3 366.5M456.9 362.6L453.4 364.0M456.7 361.3L453.1 360.8M457.2 360.1L454.4 357.8M458.3 359.4L456.9 355.9M459.6 359.2L460.1 355.6M460.8 359.7L463.1 356.9M461.5 360.8L465.0 359.4" stroke="#b0bcd8" stroke-width="0.85" stroke-linecap="round"/>
<ellipse cx="459.2" cy="361.7" rx="3.5" ry="2.6" fill="#fbfdff"/>
<path d="M434.0 375.4L437.6 375.9M433.5 376.6L436.3 378.9M432.4 377.3L433.8 380.8M431.1 377.5L430.6 381.1M429.9 377.0L427.6 379.8M429.2 375.9L425.7 377.3M429.0 374.6L425.4 374.1M429.5 373.4L426.7 371.1M430.6 372.7L429.2 369.2M431.9 372.5L432.4 368.9M433.1 373.0L435.4 370.2M433.8 374.1L437.3 372.7" stroke="#b0bcd8" stroke-width="0.85" stroke-linecap="round"/>
<ellipse cx="431.5" cy="375" rx="3.5" ry="2.6" fill="#fbfdff"/>
<path d="M449.0 375.4L452.6 375.9M448.5 376.6L451.3 378.9M447.4 377.3L448.8 380.8M446.1 377.5L445.6 381.1M444.9 377.0L442.6 379.8M444.2 375.9L440.7 377.3M444.0 374.6L440.4 374.1M444.5 373.4L441.7 371.1M445.6 372.7L444.2 369.2M446.9 372.5L447.4 368.9M448.1 373.0L450.4 370.2M448.8 374.1L452.3 372.7" stroke="#b0bcd8" stroke-width="0.85" stroke-linecap="round"/>
<ellipse cx="446.5" cy="375" rx="3.5" ry="2.6" fill="#fbfdff"/>
<path d="M477.5 373.1L481.1 373.6M477.0 374.3L479.8 376.6M475.9 375.0L477.3 378.5M474.6 375.2L474.1 378.8M473.4 374.7L471.1 377.5M472.7 373.6L469.2 375.0M472.5 372.3L468.9 371.8M473.0 371.1L470.2 368.8M474.1 370.4L472.7 366.9M475.4 370.2L475.9 366.6M476.6 370.7L478.9 367.9M477.3 371.8L480.8 370.4" stroke="#b0bcd8" stroke-width="0.85" stroke-linecap="round"/>
<ellipse cx="475" cy="372.7" rx="3.5" ry="2.6" fill="#fbfdff"/>
<path d="M467.0 391.9L470.6 392.4M466.5 393.1L469.3 395.4M465.4 393.8L466.8 397.3M464.1 394.0L463.6 397.6M462.9 393.5L460.6 396.3M462.2 392.4L458.7 393.8M462.0 391.1L458.4 390.6M462.5 389.9L459.7 387.6M463.6 389.2L462.2 385.7M464.9 389.0L465.4 385.4M466.1 389.5L468.4 386.7M466.8 390.6L470.3 389.2" stroke="#b0bcd8" stroke-width="0.85" stroke-linecap="round"/>
<ellipse cx="464.5" cy="391.5" rx="3.5" ry="2.6" fill="#fbfdff"/>
<path d="M440.0 408.4L443.6 408.9M439.5 409.6L442.3 411.9M438.4 410.3L439.8 413.8M437.1 410.5L436.6 414.1M435.9 410.0L433.6 412.8M435.2 408.9L431.7 410.3M435.0 407.6L431.4 407.1M435.5 406.4L432.7 404.1M436.6 405.7L435.2 402.2M437.9 405.5L438.4 401.9M439.1 406.0L441.4 403.2M439.8 407.1L443.3 405.7" stroke="#b0bcd8" stroke-width="0.85" stroke-linecap="round"/>
<ellipse cx="437.5" cy="408" rx="3.5" ry="2.6" fill="#fbfdff"/>
<path d="M464.0 413.6L467.6 414.1M463.5 414.8L466.3 417.1M462.4 415.5L463.8 419.0M461.1 415.7L460.6 419.3M459.9 415.2L457.6 418.0M459.2 414.1L455.7 415.5M459.0 412.8L455.4 412.3M459.5 411.6L456.7 409.3M460.6 410.9L459.2 407.4M461.9 410.7L462.4 407.1M463.1 411.2L465.4 408.4M463.8 412.3L467.3 410.9" stroke="#b0bcd8" stroke-width="0.85" stroke-linecap="round"/>
<ellipse cx="461.5" cy="413.2" rx="3.5" ry="2.6" fill="#fbfdff"/>
<path d="M444.5 421.1L448.1 421.6M444.0 422.3L446.8 424.6M442.9 423.0L444.3 426.5M441.6 423.2L441.1 426.8M440.4 422.7L438.1 425.5M439.7 421.6L436.2 423.0M439.5 420.3L435.9 419.8M440.0 419.1L437.2 416.8M441.1 418.4L439.7 414.9M442.4 418.2L442.9 414.6M443.6 418.7L445.9 415.9M444.3 419.8L447.8 418.4" stroke="#b0bcd8" stroke-width="0.85" stroke-linecap="round"/>
<ellipse cx="442" cy="420.7" rx="3.5" ry="2.6" fill="#fbfdff"/>
<path d="M479.0 429.4L482.6 429.9M478.5 430.6L481.3 432.9M477.4 431.3L478.8 434.8M476.1 431.5L475.6 435.1M474.9 431.0L472.6 433.8M474.2 429.9L470.7 431.3M474.0 428.6L470.4 428.1M474.5 427.4L471.7 425.1M475.6 426.7L474.2 423.2M476.9 426.5L477.4 422.9M478.1 427.0L480.4 424.2M478.8 428.1L482.3 426.7" stroke="#b0bcd8" stroke-width="0.85" stroke-linecap="round"/>
<ellipse cx="476.5" cy="429" rx="3.5" ry="2.6" fill="#fbfdff"/>
<path d="M437.7 433.9L441.3 434.4M437.2 435.1L440.0 437.4M436.1 435.8L437.5 439.3M434.8 436.0L434.3 439.6M433.6 435.5L431.3 438.3M432.9 434.4L429.4 435.8M432.7 433.1L429.1 432.6M433.2 431.9L430.4 429.6M434.3 431.2L432.9 427.7M435.6 431.0L436.1 427.4M436.8 431.5L439.1 428.7M437.5 432.6L441.0 431.2" stroke="#b0bcd8" stroke-width="0.85" stroke-linecap="round"/>
<ellipse cx="435.2" cy="433.5" rx="3.5" ry="2.6" fill="#fbfdff"/>
<path d="M458.7 437.6L462.3 438.1M458.2 438.8L461.0 441.1M457.1 439.5L458.5 443.0M455.8 439.7L455.3 443.3M454.6 439.2L452.3 442.0M453.9 438.1L450.4 439.5M453.7 436.8L450.1 436.3M454.2 435.6L451.4 433.3M455.3 434.9L453.9 431.4M456.6 434.7L457.1 431.1M457.8 435.2L460.1 432.4M458.5 436.3L462.0 434.9" stroke="#b0bcd8" stroke-width="0.85" stroke-linecap="round"/>
<ellipse cx="456.2" cy="437.2" rx="3.5" ry="2.6" fill="#fbfdff"/>
<path d="M448.5 448.1L452.1 448.6M448.0 449.3L450.8 451.6M446.9 450.0L448.3 453.5M445.6 450.2L445.1 453.8M444.4 449.7L442.1 452.5M443.7 448.6L440.2 450.0M443.5 447.3L439.9 446.8M444.0 446.1L441.2 443.8M445.1 445.4L443.7 441.9M446.4 445.2L446.9 441.6M447.6 445.7L449.9 442.9M448.3 446.8L451.8 445.4" stroke="#b0bcd8" stroke-width="0.85" stroke-linecap="round"/>
<ellipse cx="446" cy="447.7" rx="3.5" ry="2.6" fill="#fbfdff"/>
<circle cx="428.5" cy="291.7" r="2.5" fill="#d6eaf6" stroke="#7096b6" stroke-width="1.05"/>
<circle cx="439" cy="291.7" r="2.5" fill="#d6eaf6" stroke="#7096b6" stroke-width="1.05"/>
<circle cx="454" cy="292" r="2.5" fill="#d6eaf6" stroke="#7096b6" stroke-width="1.05"/>
<circle cx="466" cy="291.7" r="2.5" fill="#d6eaf6" stroke="#7096b6" stroke-width="1.05"/>
<circle cx="430" cy="302.5" r="2.5" fill="#d6eaf6" stroke="#7096b6" stroke-width="1.05"/>
<circle cx="453.2" cy="305.5" r="2.5" fill="#d6eaf6" stroke="#7096b6" stroke-width="1.05"/>
<circle cx="457" cy="304.7" r="2.5" fill="#d6eaf6" stroke="#7096b6" stroke-width="1.05"/>
<circle cx="466" cy="304.7" r="2.5" fill="#d6eaf6" stroke="#7096b6" stroke-width="1.05"/>
<circle cx="475" cy="302.5" r="2.5" fill="#d6eaf6" stroke="#7096b6" stroke-width="1.05"/>
<circle cx="441.2" cy="310.7" r="2.5" fill="#d6eaf6" stroke="#7096b6" stroke-width="1.05"/>
<circle cx="446.5" cy="316" r="2.5" fill="#d6eaf6" stroke="#7096b6" stroke-width="1.05"/>
<circle cx="474.2" cy="314.5" r="2.5" fill="#d6eaf6" stroke="#7096b6" stroke-width="1.05"/>
<circle cx="479.5" cy="314.8" r="2.5" fill="#d6eaf6" stroke="#7096b6" stroke-width="1.05"/>
<circle cx="458.5" cy="321.2" r="2.5" fill="#d6eaf6" stroke="#7096b6" stroke-width="1.05"/>
<circle cx="475" cy="325.7" r="2.5" fill="#d6eaf6" stroke="#7096b6" stroke-width="1.05"/>
<circle cx="479.5" cy="332.5" r="2.5" fill="#d6eaf6" stroke="#7096b6" stroke-width="1.05"/>
<circle cx="446.5" cy="334" r="2.5" fill="#d6eaf6" stroke="#7096b6" stroke-width="1.05"/>
<circle cx="449.5" cy="331.7" r="2.5" fill="#d6eaf6" stroke="#7096b6" stroke-width="1.05"/>
<circle cx="439" cy="337" r="2.5" fill="#d6eaf6" stroke="#7096b6" stroke-width="1.05"/>
<circle cx="466" cy="337" r="2.5" fill="#d6eaf6" stroke="#7096b6" stroke-width="1.05"/>
<circle cx="472.7" cy="337" r="2.5" fill="#d6eaf6" stroke="#7096b6" stroke-width="1.05"/>
<circle cx="439.3" cy="354.7" r="2.5" fill="#d6eaf6" stroke="#7096b6" stroke-width="1.05"/>
<circle cx="449.5" cy="346.7" r="2.5" fill="#d6eaf6" stroke="#7096b6" stroke-width="1.05"/>
<circle cx="474.2" cy="346.7" r="2.5" fill="#d6eaf6" stroke="#7096b6" stroke-width="1.05"/>
<circle cx="430" cy="366" r="2.5" fill="#d6eaf6" stroke="#7096b6" stroke-width="1.05"/>
<circle cx="446.5" cy="366.7" r="2.5" fill="#d6eaf6" stroke="#7096b6" stroke-width="1.05"/>
<circle cx="473.5" cy="366.7" r="2.5" fill="#d6eaf6" stroke="#7096b6" stroke-width="1.05"/>
<circle cx="480.2" cy="366" r="2.5" fill="#d6eaf6" stroke="#7096b6" stroke-width="1.05"/>
<circle cx="439" cy="373.5" r="2.5" fill="#d6eaf6" stroke="#7096b6" stroke-width="1.05"/>
<circle cx="454" cy="374.2" r="2.5" fill="#d6eaf6" stroke="#7096b6" stroke-width="1.05"/>
<circle cx="466" cy="374.2" r="2.5" fill="#d6eaf6" stroke="#7096b6" stroke-width="1.05"/>
<circle cx="449.5" cy="383.2" r="2.5" fill="#d6eaf6" stroke="#7096b6" stroke-width="1.05"/>
<circle cx="460.7" cy="384" r="2.5" fill="#d6eaf6" stroke="#7096b6" stroke-width="1.05"/>
<circle cx="475" cy="383.2" r="2.5" fill="#d6eaf6" stroke="#7096b6" stroke-width="1.05"/>
<circle cx="427.7" cy="391.5" r="2.5" fill="#d6eaf6" stroke="#7096b6" stroke-width="1.05"/>
<circle cx="439" cy="391.5" r="2.5" fill="#d6eaf6" stroke="#7096b6" stroke-width="1.05"/>
<circle cx="430" cy="402" r="2.5" fill="#d6eaf6" stroke="#7096b6" stroke-width="1.05"/>
<circle cx="446.5" cy="402.7" r="2.5" fill="#d6eaf6" stroke="#7096b6" stroke-width="1.05"/>
<circle cx="460.7" cy="402.7" r="2.5" fill="#d6eaf6" stroke="#7096b6" stroke-width="1.05"/>
<circle cx="474.2" cy="402" r="2.5" fill="#d6eaf6" stroke="#7096b6" stroke-width="1.05"/>
<circle cx="424.7" cy="409.5" r="2.5" fill="#d6eaf6" stroke="#7096b6" stroke-width="1.05"/>
<circle cx="431.5" cy="423" r="2.5" fill="#d6eaf6" stroke="#7096b6" stroke-width="1.05"/>
<circle cx="448.7" cy="424.5" r="2.5" fill="#d6eaf6" stroke="#7096b6" stroke-width="1.05"/>
<circle cx="462.2" cy="423" r="2.5" fill="#d6eaf6" stroke="#7096b6" stroke-width="1.05"/>
<circle cx="427" cy="429.7" r="2.5" fill="#d6eaf6" stroke="#7096b6" stroke-width="1.05"/>
<circle cx="440.5" cy="430.5" r="2.5" fill="#d6eaf6" stroke="#7096b6" stroke-width="1.05"/>
<circle cx="468.2" cy="429.7" r="2.5" fill="#d6eaf6" stroke="#7096b6" stroke-width="1.05"/>
<circle cx="430.7" cy="441.7" r="2.5" fill="#d6eaf6" stroke="#7096b6" stroke-width="1.05"/>
<circle cx="463" cy="441.7" r="2.5" fill="#d6eaf6" stroke="#7096b6" stroke-width="1.05"/>
<circle cx="468.2" cy="441.7" r="2.5" fill="#d6eaf6" stroke="#7096b6" stroke-width="1.05"/>
<circle cx="476.5" cy="440.2" r="2.5" fill="#d6eaf6" stroke="#7096b6" stroke-width="1.05"/>
<g opacity="0.85"><line x1="441" y1="350" x2="442.8" y2="345.5" stroke="#5b9ad6" stroke-width="3"/><polygon points="444.7,340.7 445.5,347.5 439.4,345.1" fill="#5b9ad6"/></g>
<g opacity="0.85"><line x1="435" y1="352" x2="430.8" y2="350.3" stroke="#5b9ad6" stroke-width="3"/><polygon points="426,348.3 432.8,347.5 430.3,353.6" fill="#5b9ad6"/></g>
<g opacity="0.85"><line x1="443" y1="356.5" x2="446.3" y2="357.4" stroke="#5b9ad6" stroke-width="3"/><polygon points="451.3,358.7 444.7,360.4 446.3,354.0" fill="#5b9ad6"/></g>
<g opacity="0.85"><line x1="437" y1="359" x2="434.1" y2="363.6" stroke="#5b9ad6" stroke-width="3"/><polygon points="431.3,368 431.7,361.2 437.3,364.7" fill="#5b9ad6"/></g>
<g opacity="0.85"><line x1="441" y1="391" x2="454.8" y2="391.0" stroke="#5b9ad6" stroke-width="2.2"/><polygon points="459,391 454.0,394.0 454.0,388.0" fill="#5b9ad6"/></g>
<g opacity="1"><line x1="122.3" y1="281.7" x2="110.8" y2="279.3" stroke="#0c0c14" stroke-width="2.5"/><polygon points="103.3,277.7 112.4,275.7 110.8,283.2" fill="#0c0c14"/></g>
<g opacity="1"><line x1="108.3" y1="330.8" x2="84.8" y2="356.1" stroke="#0c0c14" stroke-width="2.5"/><polygon points="79.6,361.7 82.6,352.9 88.2,358.1" fill="#0c0c14"/></g>
<g opacity="1"><line x1="111" y1="389" x2="53.4" y2="400.2" stroke="#0c0c14" stroke-width="2.5"/><polygon points="45.8,401.7 53.4,396.3 54.9,403.8" fill="#0c0c14"/></g>
<g opacity="1"><line x1="267" y1="288.5" x2="229.7" y2="292.6" stroke="#0c0c14" stroke-width="2.5"/><polygon points="222,293.5 230.0,288.8 230.9,296.4" fill="#0c0c14"/></g>
<g opacity="1"><line x1="272.5" y1="349" x2="226.6" y2="357.2" stroke="#0c0c14" stroke-width="2.5"/><polygon points="219,358.5 226.7,353.2 228.0,360.8" fill="#0c0c14"/></g>
<g opacity="1"><line x1="269" y1="408" x2="243.8" y2="416.1" stroke="#0c0c14" stroke-width="2.5"/><polygon points="236.5,418.5 243.4,412.2 245.8,419.5" fill="#0c0c14"/></g>
<g opacity="1"><line x1="493.5" y1="286.5" x2="456.5" y2="296.1" stroke="#0c0c14" stroke-width="2.5"/><polygon points="449,298 456.3,292.2 458.2,299.6" fill="#0c0c14"/></g>
<g opacity="1"><line x1="494" y1="345.5" x2="452.1" y2="351.4" stroke="#0c0c14" stroke-width="2.5"/><polygon points="444.5,352.5 452.4,347.5 453.5,355.1" fill="#0c0c14"/></g>
<g opacity="1"><line x1="502.5" y1="410" x2="472.6" y2="413.6" stroke="#0c0c14" stroke-width="2.5"/><polygon points="465,414.5 473.0,409.7 473.9,417.3" fill="#0c0c14"/></g>
<!--SVGEND-->
</svg>
<!-- labels -->
<div class="lbl" style="left:124px;top:277.9px;font-size:11px;line-height:11.6px;">Vỡ tan trên<br>bề mặt</div>
<div class="lbl" style="left:112px;top:321.6px;font-size:9.15px;line-height:10px;">Nhanh chóng<br>nổi lên bề<br>mặt (thời gian<br>tính theo giây)</div>
<div class="lbl" style="left:117px;top:380.8px;font-size:10.65px;line-height:11.5px;">Chuyển khối<br>kém</div>
<div class="lbl" style="left:272px;top:281.2px;font-size:10.9px;line-height:11.1px;">Vỡ tan trong<br>chất lỏng</div>
<div class="lbl" style="left:276px;top:320.8px;font-size:11px;line-height:11.77px;">Nổi lên bề mặt<br>một cách chậm<br>chạp (thời gian<br>tính theo phút)</div>
<div class="lbl" style="left:275px;top:388px;font-size:10.5px;line-height:12px;">Chuyển khối<br>tốt hơn</div>
<div class="lbl" style="left:497.5px;top:284.1px;font-size:10.75px;line-height:11.85px;">Phình to và vỡ<br>tan trong chất<br>lỏng</div>
<div class="lbl" style="left:497px;top:342.7px;font-size:10.5px;line-height:11.5px;">Chuyển động<br>Brown (thời gian<br>tính theo giờ -<br>tháng)</div>
<div class="lbl" style="left:505px;top:409.3px;font-size:10.7px;line-height:11.6px;">Chuyển khối rất<br>hiệu quả</div>
</body></html>
